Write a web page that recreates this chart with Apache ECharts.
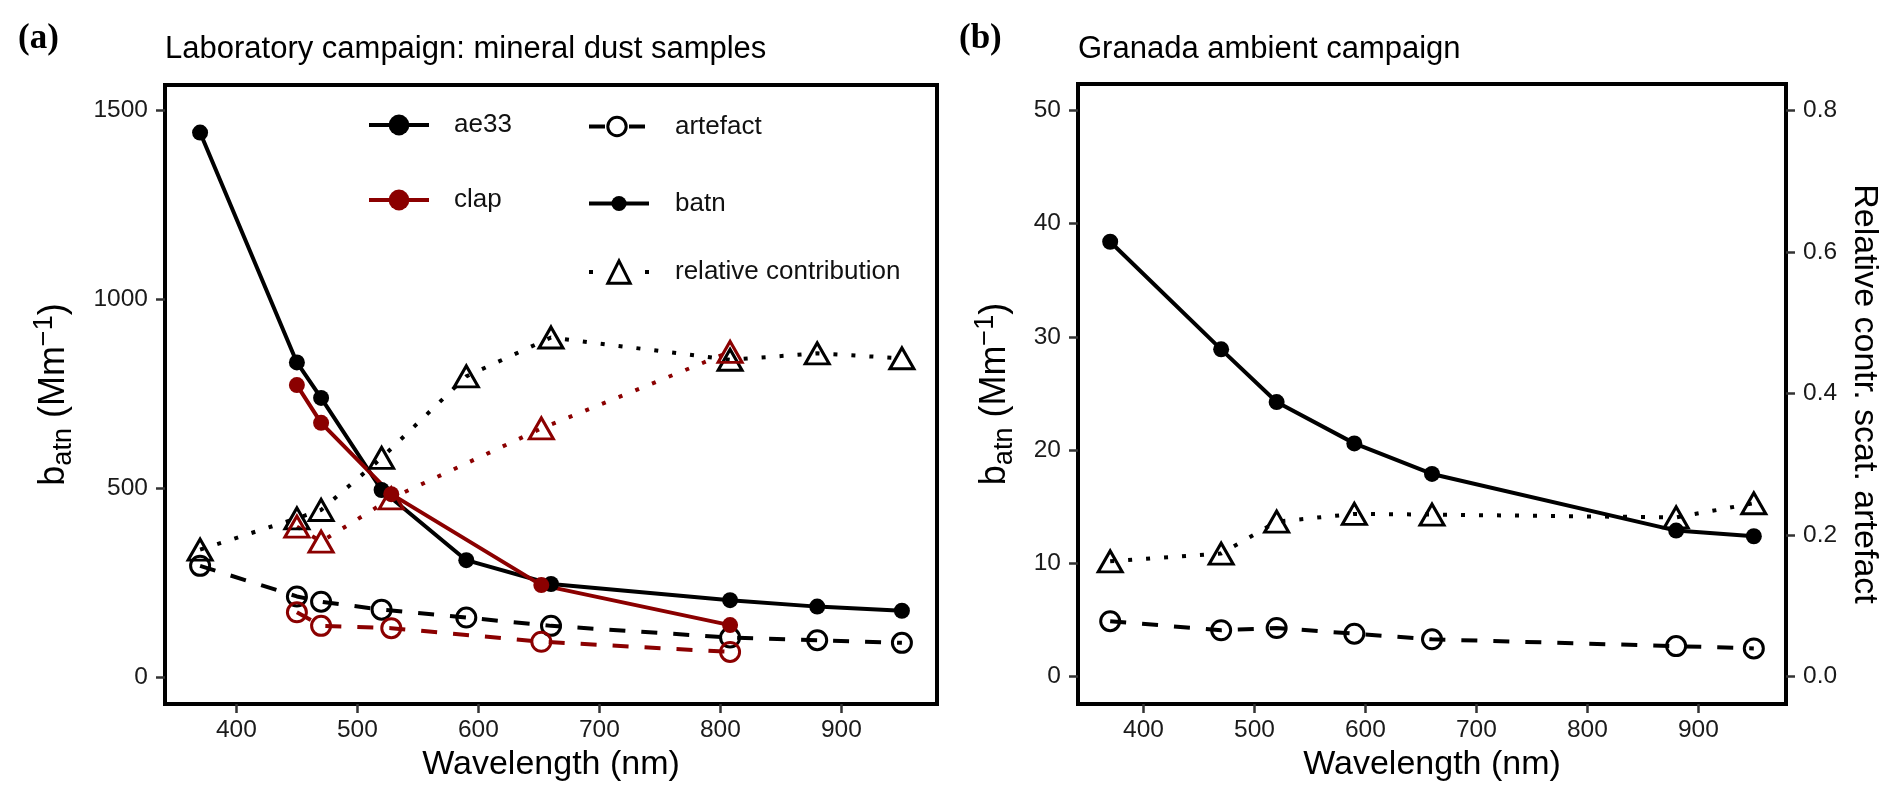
<!DOCTYPE html>
<html>
<head>
<meta charset="utf-8">
<script src="https://cdn.jsdelivr.net/npm/echarts@6/dist/echarts.min.js"></script>
<style>
  html, body { margin: 0; padding: 0; background: #fff; }
  #charts { width: 1892px; height: 805px; }
</style>
</head>
<body>
<div id="charts"></div>
<script>
// panel (a): laboratory campaign
const wlLab = [370, 450, 470, 520, 590, 660, 808, 880, 950];
const ae33Batn = [1442, 833, 739, 495, 309, 246, 203, 186, 175];
const ae33Artefact = [294, 213, 199, 178, 157, 135, 104, 97, 90];
const ae33Relative = [337, 420, 442, 580, 796, 899, 840, 857, 844];

const wlClap = [450, 470, 528, 652, 808];
const clapBatn = [773, 673, 484, 243, 137];
const clapArtefact = [171, 135, 129, 93, 66];
const clapRelative = [398, 358, 473, 658, 861];

// panel (b): Granada ambient campaign
const wlGranada = [370, 470, 520, 590, 660, 880, 950];
const granadaBatn = [38.4, 28.9, 24.25, 20.6, 17.9, 12.9, 12.4];
const granadaArtefact = [4.9, 4.1, 4.3, 3.8, 3.3, 2.7, 2.5];
const granadaRelative = [0.163, 0.174, 0.219, 0.230, 0.229, 0.225, 0.245];

const xTicks = [400, 500, 600, 700, 800, 900];
const yTicksLab = [0, 500, 1000, 1500];
const yTicksGranada = [0, 10, 20, 30, 40, 50];
const yTicksRelative = [0, 0.2, 0.4, 0.6, 0.8];

const RED = '#8B0000';
const FONT = '"Liberation Sans", Arial, Helvetica, sans-serif';
const SERIF = '"Liberation Serif", "Times New Roman", serif';

const pairs = (xs, ys) => xs.map((x, i) => [x, ys[i]]);

let myChart = echarts.init(document.getElementById('charts'));

const tickLabel = { color: '#1a1a1a', fontSize: 24.5, fontFamily: FONT };
const tickStyle = { length: 9, lineStyle: { color: '#333', width: 2.5 } };

function xAxisFor(gridIndex) {
    return {
        type: 'value', gridIndex: gridIndex, min: 341, max: 979,
        name: 'Wavelength (nm)', nameLocation: 'middle', nameGap: 44,
        nameTextStyle: { fontSize: 34, color: '#000', fontFamily: FONT },
        axisLine: { show: false, onZero: false }, splitLine: { show: false },
        axisTick: Object.assign({ customValues: xTicks }, tickStyle),
        axisLabel: Object.assign({ customValues: xTicks, margin: 14 }, tickLabel)
    };
}

// b_atn (Mm^-1) with sub- and superscript
const batnName = '{m|b}{s|atn}{m| (Mm}{p|−1}{m|)}';
const batnRich = {
    m: { fontSize: 36, fontFamily: FONT, color: '#000', lineHeight: 46, verticalAlign: 'middle' },
    s: { fontSize: 27, fontFamily: FONT, color: '#000', lineHeight: 18, verticalAlign: 'bottom' },
    p: { fontSize: 27, fontFamily: FONT, color: '#000', lineHeight: 18, verticalAlign: 'top' }
};

function lineSeries(name, x, y, data, color, kind) {
    let s = {
        name: name, type: 'line', xAxisIndex: x, yAxisIndex: y, data: data,
        lineStyle: { color: color, width: 4, cap: 'butt' }, z: 3
    };
    if (kind === 'batn') {
        s.symbol = 'circle'; s.symbolSize = 16;
        s.itemStyle = { color: color };
    } else if (kind === 'artefact') {
        s.lineStyle.type = [16, 16];
        s.symbol = 'circle'; s.symbolSize = 19;
        s.itemStyle = { color: 'rgba(0,0,0,0)', borderColor: color, borderWidth: 3 };
    } else {
        s.lineStyle.type = [4, 14];
        s.symbol = 'triangle'; s.symbolSize = [24, 21];
        s.itemStyle = { color: 'rgba(0,0,0,0)', borderColor: color, borderWidth: 3 };
    }
    return s;
}

// legend-only series, the keys of panel (a)
function keySeries(name, color, symbol) {
    return { name: name, type: 'line', xAxisIndex: 0, yAxisIndex: 0, data: [], symbol: symbol, itemStyle: { color: color }, lineStyle: { color: color } };
}

function legendEntry(name, left, cy, w, h, pad, lineStyle, itemStyle) {
    return {
        data: [name], left: left, top: cy - h / 2, padding: 0,
        itemWidth: w, itemHeight: h, selectedMode: false,
        lineStyle: lineStyle, itemStyle: itemStyle,
        textStyle: { fontSize: 26, color: '#111', fontFamily: FONT, padding: [0, 0, 0, pad] }
    };
}

let option = {
    animation: false,
    backgroundColor: '#fff',
    title: [
        { text: '(a)', left: 18, top: 21, padding: 0, textStyle: { fontFamily: SERIF, fontWeight: 'bold', fontSize: 35, color: '#000' } },
        { text: 'Laboratory campaign: mineral dust samples', left: 165, top: 34, padding: 0, textStyle: { fontFamily: FONT, fontWeight: 'normal', fontSize: 31, color: '#000' } },
        { text: '(b)', left: 959, top: 21, padding: 0, textStyle: { fontFamily: SERIF, fontWeight: 'bold', fontSize: 35, color: '#000' } },
        { text: 'Granada ambient campaign', left: 1078, top: 34, padding: 0, textStyle: { fontFamily: FONT, fontWeight: 'normal', fontSize: 31, color: '#000' } }
    ],
    grid: [
        { left: 165, top: 85, width: 772, height: 619, show: true, borderColor: '#000', borderWidth: 4, backgroundColor: '#fff' },
        { left: 1078, top: 84, width: 708, height: 620, show: true, borderColor: '#000', borderWidth: 4, backgroundColor: '#fff' }
    ],
    legend: [
        legendEntry('ae33', 367, 125, 60, 26, 20, { color: '#000', width: 4, type: 'solid' }, { color: '#000', borderWidth: 0 }),
        legendEntry('clap', 367, 200, 60, 26, 20, { color: RED, width: 4, type: 'solid' }, { color: RED, borderWidth: 0 }),
        legendEntry('artefact', 587, 125, 56, 23, 25, { color: '#000', width: 4, type: [16, 24] }, { color: '#fff', borderColor: '#000', borderWidth: 3 }),
        legendEntry('batn', 587, 200, 60, 19, 21, { color: '#000', width: 4, type: 'solid' }, { color: '#000', borderWidth: 0 }),
        legendEntry('relative contribution', 587, 273, 60, 28, 21, { color: '#000', width: 4, type: [4, 52] }, { color: 'rgba(0,0,0,0)', borderColor: '#000', borderWidth: 3 })
    ],
    xAxis: [xAxisFor(0), xAxisFor(1)],
    yAxis: [
        {
            type: 'value', gridIndex: 0, min: -72, max: 1568,
            name: batnName, nameLocation: 'middle', nameGap: 88, nameRotate: 90,
            nameTextStyle: { rich: batnRich },
            axisLine: { show: false, onZero: false }, splitLine: { show: false },
            axisTick: Object.assign({ customValues: yTicksLab }, tickStyle),
            axisLabel: Object.assign({ customValues: yTicksLab, margin: 17, formatter: v => String(v) }, tickLabel)
        },
        {
            type: 'value', gridIndex: 1, min: -2.41, max: 52.33,
            name: batnName, nameLocation: 'middle', nameGap: 60, nameRotate: 90,
            nameTextStyle: { rich: batnRich },
            axisLine: { show: false, onZero: false }, splitLine: { show: false },
            axisTick: Object.assign({ customValues: yTicksGranada }, tickStyle),
            axisLabel: Object.assign({ customValues: yTicksGranada, margin: 17, formatter: v => String(v) }, tickLabel)
        },
        {
            type: 'value', gridIndex: 1, position: 'right', min: -2.41 / 62.5, max: 52.33 / 62.5,
            name: 'Relative contr. scat. artefact', nameLocation: 'middle', nameGap: 61, nameRotate: -90,
            nameTextStyle: { fontSize: 34, color: '#000', fontFamily: FONT },
            axisLine: { show: false, onZero: false }, splitLine: { show: false },
            axisTick: Object.assign({ customValues: yTicksRelative }, tickStyle),
            axisLabel: Object.assign({ customValues: yTicksRelative, margin: 17, formatter: v => v.toFixed(1) }, tickLabel)
        }
    ],
    series: [
        keySeries('ae33', '#000', 'circle'),
        keySeries('clap', RED, 'circle'),
        keySeries('artefact', '#000', 'circle'),
        keySeries('batn', '#000', 'circle'),
        keySeries('relative contribution', '#000', 'triangle'),
        lineSeries('ae33 relative', 0, 0, pairs(wlLab, ae33Relative), '#000', 'relative'),
        lineSeries('clap relative', 0, 0, pairs(wlClap, clapRelative), RED, 'relative'),
        lineSeries('ae33 artefact', 0, 0, pairs(wlLab, ae33Artefact), '#000', 'artefact'),
        lineSeries('clap artefact', 0, 0, pairs(wlClap, clapArtefact), RED, 'artefact'),
        lineSeries('ae33 batn', 0, 0, pairs(wlLab, ae33Batn), '#000', 'batn'),
        lineSeries('clap batn', 0, 0, pairs(wlClap, clapBatn), RED, 'batn'),
        lineSeries('granada relative', 1, 2, pairs(wlGranada, granadaRelative), '#000', 'relative'),
        lineSeries('granada artefact', 1, 1, pairs(wlGranada, granadaArtefact), '#000', 'artefact'),
        lineSeries('granada batn', 1, 1, pairs(wlGranada, granadaBatn), '#000', 'batn')
    ]
};
myChart.setOption(option);
</script>
</body>
</html>
